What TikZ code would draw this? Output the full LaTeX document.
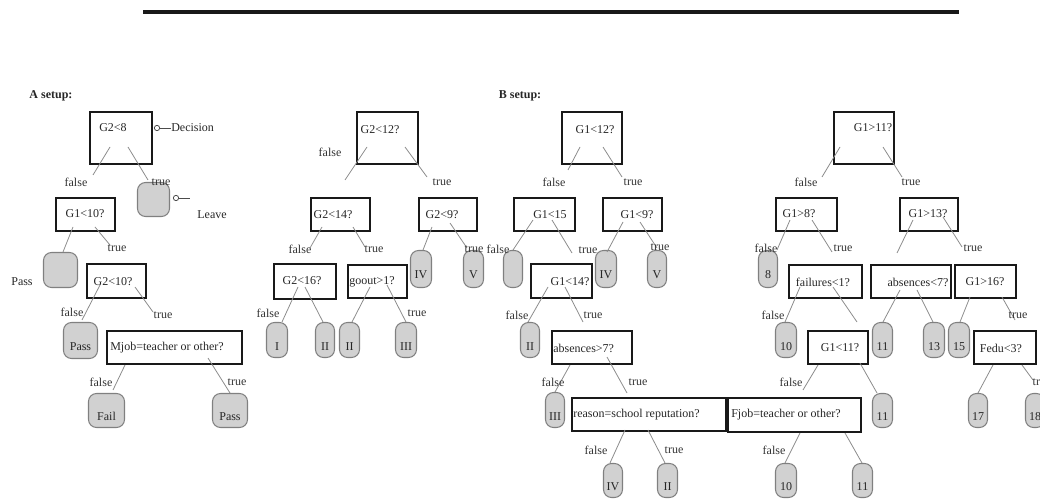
\documentclass[tikz,border=0pt]{standalone}
\usepackage{fontspec}
\setmainfont{Liberation Serif}
\begin{document}
\begin{tikzpicture}[x=0.75pt,y=-0.75pt,
  dbox/.style n args={2}{draw=black!90, line width=2.1pt, minimum width={(#1-2)*0.75pt}, minimum height={(#2-2)*0.75pt}, inner sep=0pt},
  leaf/.style n args={2}{draw=black!50, fill=black!18, line width=0.8pt, rounded corners=6pt, minimum width={(#1-1)*0.75pt}, minimum height={(#2-1)*0.75pt}, inner sep=0pt, text height=15pt, text depth=0pt, font=\fontsize{9}{10}\selectfont, text=black!85},
  txt/.style={font=\fontsize{9}{10}\selectfont, inner sep=0pt, text=black!85},
  lbl/.style={font=\fontsize{9}{10}\selectfont, inner sep=0pt, text=black!80},
  edge/.style={draw=black!45, line width=0.6pt},
  circ/.style={circle, draw=black!70, line width=0.6pt, fill=white, inner sep=0pt, minimum size=4pt}]
\useasboundingbox (0,0) rectangle (1040,499);
\clip (0,0) rectangle (1040,499);
% top rule
\coordinate (ruleL) at (143,12);
\coordinate (ruleR) at (959,12);
\draw[line width=2.6pt, black!90] (ruleL) -- (ruleR);

% titles
\node[txt, font=\fontsize{9}{10}\selectfont\bfseries] (titleA) at (51,96) {A setup:};
\node[txt, font=\fontsize{9}{10}\selectfont\bfseries] (titleB) at (520,96) {B setup:};

% ---------- Tree A (left) ----------
\node[dbox={64}{54}] (A1) at (121,138) {};
\node[txt] (A1t) at (113,128) {G2<8};
\node[dbox={61}{35}] (A2) at (85.5,214.5) {};
\node[txt] (A2t) at (85,214) {G1<10?};
\node[dbox={61}{36}] (A3) at (116.5,281) {};
\node[txt] (A3t) at (113,282) {G2<10?};
\node[dbox={137}{35}] (A4) at (174.5,347.5) {};
\node[txt, anchor=west] (A4t) at (110,348) {Mjob=teacher or other?};

\node[leaf={33}{35}] (L1) at (153.5,199.5) {};
\node[leaf={35}{36}] (L2) at (60.5,270) {};
\node[leaf={35}{37}] (L3) at (80.5,340.5) {Pass};
\node[leaf={37}{35}] (L4) at (106.5,410.5) {Fail};
\node[leaf={36}{35}] (L5) at (230,410.5) {Pass};
\node[txt] (L2p) at (22,282) {Pass};

\node[circ] (dc) at (157,128) {};
\node[txt, anchor=west] (dec) at (171,128) {Decision};
\draw[black!70, line width=0.6pt] (dc) -- (dec.west);
\node[circ] (lc) at (176,198) {};
\coordinate (lend) at (190,198);
\draw[black!70, line width=0.6pt] (lc) -- (lend);
\node[txt] (leave) at (212,215) {Leave};

\draw[edge] ([shift={(-11,9)}]A1.center) -- ([shift={(7.5,-39.5)}]A2.center);
\draw[edge] ([shift={(7,9)}]A1.center) -- ([shift={(-5.5,-19.5)}]L1.center);
\draw[edge] ([shift={(-12.5,12.5)}]A2.center) -- ([shift={(2.5,-18)}]L2.center);
\draw[edge] ([shift={(9.5,12.5)}]A2.center) -- ([shift={(-6.5,-36)}]A3.center);
\draw[edge] ([shift={(-16.5,4)}]A3.center) -- ([shift={(1.5,-20.5)}]L3.center);
\draw[edge] ([shift={(18.5,6)}]A3.center) -- ([shift={(-21.5,-35.5)}]A4.center);
\draw[edge] ([shift={(-49.5,17.5)}]A4.center) -- ([shift={(6.5,-20.5)}]L4.center);
\draw[edge] ([shift={(33.5,10.5)}]A4.center) -- ([shift={(0,-17.5)}]L5.center);

\node[lbl] (la1) at (76,182) {false};
\node[lbl] (la2) at (161,182) {true};
\node[lbl] (la3) at (117,248) {true};
\node[lbl] (la4) at (72,312) {false};
\node[lbl] (la5) at (163,315) {true};
\node[lbl] (la6) at (101,382) {false};
\node[lbl] (la7) at (237,382) {true};

% ---------- Tree C (G2<12?) ----------
\node[dbox={63}{54}] (C1) at (387.5,138) {};
\node[txt] (C1t) at (380,130) {G2<12?};
\node[dbox={61}{35}] (C2) at (340.5,214.5) {};
\node[txt] (C2t) at (333,215) {G2<14?};
\node[dbox={60}{35}] (C3) at (448,214.5) {};
\node[txt] (C3t) at (442,215) {G2<9?};
\node[dbox={64}{37}] (C4) at (305,281.5) {};
\node[txt] (C4t) at (302,281) {G2<16?};
\node[dbox={61}{35}] (C5) at (377.5,281.5) {};
\node[txt] (C5t) at (372,282) {goout>1?};

\node[leaf={22}{38}] (M1) at (421,269) {IV};
\node[leaf={21}{38}] (M2) at (473.5,269) {V};
\node[leaf={22}{36}] (M3) at (277,340) {I};
\node[leaf={20}{36}] (M4) at (325,340) {II};
\node[leaf={21}{36}] (M5) at (349.5,340) {II};
\node[leaf={22}{36}] (M6) at (406,340) {III};

\draw[edge] ([shift={(-20.5,9)}]C1.center) -- ([shift={(4.5,-34.5)}]C2.center);
\draw[edge] ([shift={(17.5,9)}]C1.center) -- ([shift={(-21,-37.5)}]C3.center);
\draw[edge] ([shift={(-18.5,12.5)}]C2.center) -- ([shift={(5,-33.5)}]C4.center);
\draw[edge] ([shift={(12.5,12.5)}]C2.center) -- ([shift={(-12.5,-34.5)}]C5.center);
\draw[edge] ([shift={(-16,12.5)}]C3.center) -- ([shift={(2,-19)}]M1.center);
\draw[edge] ([shift={(2,8.5)}]C3.center) -- ([shift={(-6.5,-21)}]M2.center);
\draw[edge] ([shift={(-7,5.5)}]C4.center) -- ([shift={(5,-18)}]M3.center);
\draw[edge] ([shift={(0,5.5)}]C4.center) -- ([shift={(-2,-18)}]M4.center);
\draw[edge] ([shift={(-7.5,5.5)}]C5.center) -- ([shift={(2.5,-18)}]M5.center);
\draw[edge] ([shift={(9.5,3.5)}]C5.center) -- ([shift={(0,-18)}]M6.center);

\node[lbl] (lc1) at (330,152) {false};
\node[lbl] (lc2) at (442,182) {true};
\node[lbl] (lc3) at (300,249) {false};
\node[lbl] (lc4) at (374,249) {true};
\node[lbl] (lc5) at (474,249) {true};
\node[lbl] (lc6) at (268,313) {false};
\node[lbl] (lc7) at (417,313) {true};

% ---------- Tree B (G1<12?) ----------
\node[dbox={62}{54}] (B1) at (592,138) {};
\node[txt] (B1t) at (595,130) {G1<12?};
\node[dbox={63}{35}] (B2) at (544.5,214.5) {};
\node[txt] (B2t) at (550,215) {G1<15};
\node[dbox={61}{35}] (B3) at (632.5,214.5) {};
\node[txt] (B3t) at (637,215) {G1<9?};
\node[dbox={63}{36}] (B4) at (561.5,281) {};
\node[txt] (B4t) at (570,282) {G1<14?};
\node[dbox={82}{35}] (B5) at (592,347.5) {};
\node[txt, anchor=west] (B5t) at (553,348) {absences>7?};
\node[dbox={156}{35}] (B6) at (649,414.5) {};
\node[txt, anchor=west] (B6t) at (573,415) {reason=school reputation?};
\node[dbox={135}{36}] (B7) at (794.5,415) {};
\node[txt, anchor=west] (B7t) at (731,415) {Fjob=teacher or other?};

\node[leaf={20}{38}] (Q1) at (513,269) {};
\node[leaf={22}{38}] (Q2) at (606,269) {IV};
\node[leaf={20}{38}] (Q3) at (657,269) {V};
\node[leaf={20}{36}] (Q4) at (530,340) {II};
\node[leaf={20}{36}] (Q5) at (555,410) {III};
\node[leaf={20}{35}] (Q6) at (613,480.5) {IV};
\node[leaf={21}{35}] (Q7) at (667.5,480.5) {II};

\draw[edge] ([shift={(-12,9)}]B1.center) -- ([shift={(23.5,-44.5)}]B2.center);
\draw[edge] ([shift={(11,9)}]B1.center) -- ([shift={(-10.5,-37.5)}]B3.center);
\draw[edge] ([shift={(-11.5,5.5)}]B2.center) -- ([shift={(0,-19)}]Q1.center);
\draw[edge] ([shift={(7.5,5.5)}]B2.center) -- ([shift={(10.5,-28)}]B4.center);
\draw[edge] ([shift={(-9.5,7.5)}]B3.center) -- ([shift={(1,-17)}]Q2.center);
\draw[edge] ([shift={(7.5,7.5)}]B3.center) -- ([shift={(0,-21)}]Q3.center);
\draw[edge] ([shift={(-13.5,6)}]B4.center) -- ([shift={(-2,-18)}]Q4.center);
\draw[edge] ([shift={(3.5,6)}]B4.center) -- ([shift={(-9,-25.5)}]B5.center);
\draw[edge] ([shift={(-22,17.5)}]B5.center) -- ([shift={(0,-18)}]Q5.center);
\draw[edge] ([shift={(15,9.5)}]B5.center) -- ([shift={(-22,-21.5)}]B6.center);
\draw[edge] ([shift={(-24,15.5)}]B6.center) -- ([shift={(-3,-17.5)}]Q6.center);
\draw[edge] ([shift={(-1,15.5)}]B6.center) -- ([shift={(-2.5,-17.5)}]Q7.center);

\node[lbl] (lb1) at (554,182) {false};
\node[lbl] (lb2) at (633,182) {true};
\node[lbl] (lb3) at (498,249) {false};
\node[lbl] (lb4) at (588,250) {true};
\node[lbl] (lb5) at (660,247) {true};
\node[lbl] (lb6) at (517,315) {false};
\node[lbl] (lb7) at (593,315) {true};
\node[lbl] (lb8) at (553,382) {false};
\node[lbl] (lb9) at (638,382) {true};
\node[lbl] (lb10) at (596,450) {false};
\node[lbl] (lb11) at (674,450) {true};

% ---------- Tree D (G1>11?) ----------
\node[dbox={62}{54}] (D1) at (864,138) {};
\node[txt] (D1t) at (873,128) {G1>11?};
\node[dbox={63}{35}] (D2) at (806.5,214.5) {};
\node[txt] (D2t) at (799,214) {G1>8?};
\node[dbox={60}{35}] (D3) at (929,214.5) {};
\node[txt] (D3t) at (928,214) {G1>13?};
\node[dbox={75}{35}] (D4) at (825.5,281.5) {};
\node[txt] (D4t) at (823,282) {failures<1?};
\node[dbox={82}{35}] (D5) at (911,281.5) {};
\node[txt] (D5t) at (918,282) {absences<7?};
\node[dbox={63}{35}] (D6) at (985.5,281.5) {};
\node[txt] (D6t) at (985,282) {G1>16?};
\node[dbox={62}{35}] (D7) at (838,347.5) {};
\node[txt] (D7t) at (840,348) {G1<11?};
\node[dbox={64}{35}] (D8) at (1005,347.5) {};
\node[txt] (D8t) at (1001,348) {Fedu<3?};

\node[leaf={20}{38}] (R1) at (768,269) {8};
\node[leaf={22}{36}] (R2) at (786,340) {10};
\node[leaf={21}{36}] (R3) at (882.5,340) {11};
\node[leaf={22}{36}] (R4) at (934,340) {13};
\node[leaf={22}{36}] (R5) at (959,340) {15};
\node[leaf={21}{35}] (R6) at (882.5,410.5) {11};
\node[leaf={20}{35}] (R7) at (978,410.5) {17};
\node[leaf={20}{35}] (R8) at (1035,410.5) {18};
\node[leaf={22}{35}] (R9) at (786,480.5) {10};
\node[leaf={21}{35}] (R10) at (862.5,480.5) {11};

\draw[edge] ([shift={(-24,9)}]D1.center) -- ([shift={(15.5,-37.5)}]D2.center);
\draw[edge] ([shift={(19,9)}]D1.center) -- ([shift={(-27,-37.5)}]D3.center);
\draw[edge] ([shift={(-16.5,5.5)}]D2.center) -- ([shift={(9,-19)}]R1.center);
\draw[edge] ([shift={(5.5,5.5)}]D2.center) -- ([shift={(6.5,-29.5)}]D4.center);
\draw[edge] ([shift={(-16,5.5)}]D3.center) -- ([shift={(-14,-28.5)}]D5.center);
\draw[edge] ([shift={(14,2.5)}]D3.center) -- ([shift={(-23.5,-34.5)}]D6.center);
\draw[edge] ([shift={(-25.5,5.5)}]D4.center) -- ([shift={(-1,-18)}]R2.center);
\draw[edge] ([shift={(7.5,5.5)}]D4.center) -- ([shift={(19,-25.5)}]D7.center);
\draw[edge] ([shift={(-11,8.5)}]D5.center) -- ([shift={(0.5,-18)}]R3.center);
\draw[edge] ([shift={(6,8.5)}]D5.center) -- ([shift={(-1,-18)}]R4.center);
\draw[edge] ([shift={(-15.5,15.5)}]D6.center) -- ([shift={(1,-18)}]R5.center);
\draw[edge] ([shift={(16.5,15.5)}]D6.center) -- ([shift={(10,-27.5)}]D8.center);
\draw[edge] ([shift={(-20,17.5)}]D7.center) -- ([shift={(8.5,-25)}]B7.center);
\draw[edge] ([shift={(22,15.5)}]D7.center) -- ([shift={(-5.5,-17.5)}]R6.center);
\draw[edge] ([shift={(-12,17.5)}]D8.center) -- ([shift={(0,-17.5)}]R7.center);
\draw[edge] ([shift={(17,17.5)}]D8.center) -- ([shift={(-2,-30.5)}]R8.center);
\draw[edge] ([shift={(5.5,18)}]B7.center) -- ([shift={(-1,-17.5)}]R9.center);
\draw[edge] ([shift={(50.5,18)}]B7.center) -- ([shift={(-0.5,-17.5)}]R10.center);

\node[lbl] (ld1) at (806,182) {false};
\node[lbl] (ld2) at (911,182) {true};
\node[lbl] (ld3) at (766,248) {false};
\node[lbl] (ld4) at (843,248) {true};
\node[lbl] (ld5) at (973,248) {true};
\node[lbl] (ld6) at (773,315) {false};
\node[lbl] (ld7) at (1018,315) {true};
\node[lbl] (ld8) at (791,382) {false};
\node[lbl] (ld9) at (1042,382) {true};
\node[lbl] (ld10) at (774,450) {false};
\end{tikzpicture}
\end{document}
